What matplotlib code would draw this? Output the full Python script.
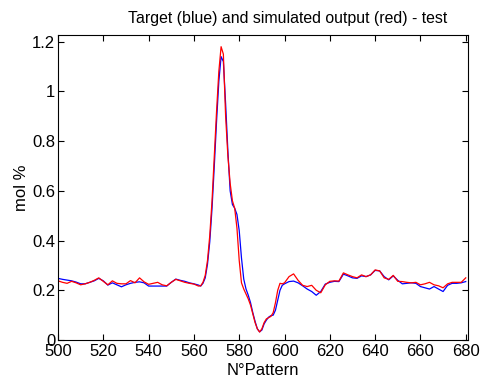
import numpy as np
import matplotlib
matplotlib.use('Agg')
import matplotlib.pyplot as plt

plt.rcParams['font.family'] = ['Liberation Sans', 'DejaVu Sans']

# pattern numbers (x) shared by both series
pattern = ([500, 502, 504, 506, 508, 510, 512, 514, 516, 518, 520, 522, 524, 526, 528,
            530, 532, 534, 536, 538, 540, 542, 544, 546, 548, 550, 552, 554, 556, 558,
            560, 562]
           + list(range(563, 601))
           + list(range(602, 681, 2)))

# target (blue)
target = [0.248, 0.244, 0.241, 0.238, 0.233, 0.226, 0.226, 0.232, 0.238, 0.248,
          0.238, 0.221, 0.230, 0.222, 0.214, 0.222, 0.228, 0.232, 0.234, 0.230,
          0.217, 0.217, 0.217, 0.217, 0.217, 0.232, 0.245, 0.240, 0.236, 0.230,
          0.226, 0.221,
          # 563..600
          0.217, 0.228, 0.250, 0.305, 0.395, 0.530, 0.700, 0.880, 1.040, 1.140,
          1.120, 0.950, 0.760, 0.600, 0.545, 0.530, 0.505, 0.440, 0.330, 0.245,
          0.205, 0.180, 0.150, 0.110, 0.075, 0.045, 0.033, 0.040, 0.065, 0.080,
          0.092, 0.098, 0.100, 0.120, 0.160, 0.200, 0.220, 0.226,
          # 602..680
          0.235, 0.237, 0.230, 0.218, 0.205, 0.195, 0.180, 0.195, 0.225, 0.232,
          0.236, 0.235, 0.265, 0.258, 0.250, 0.248, 0.258, 0.255, 0.262, 0.280,
          0.278, 0.255, 0.242, 0.258, 0.240, 0.226, 0.228, 0.230, 0.228, 0.215,
          0.210, 0.205, 0.215, 0.205, 0.195, 0.220, 0.228, 0.228, 0.230, 0.235]

# simulated output (red)
output = [0.238, 0.232, 0.228, 0.236, 0.230, 0.222, 0.226, 0.232, 0.240, 0.250,
          0.236, 0.222, 0.238, 0.228, 0.226, 0.226, 0.239, 0.230, 0.250, 0.234,
          0.224, 0.228, 0.232, 0.222, 0.218, 0.232, 0.244, 0.238, 0.232, 0.228,
          0.225, 0.217,
          # 563..600
          0.218, 0.232, 0.260, 0.320, 0.420, 0.560, 0.740, 0.920, 1.080, 1.180,
          1.150, 0.900, 0.740, 0.630, 0.560, 0.530, 0.450, 0.320, 0.230, 0.205,
          0.185, 0.165, 0.140, 0.105, 0.070, 0.045, 0.032, 0.045, 0.070, 0.085,
          0.090, 0.095, 0.110, 0.150, 0.200, 0.228, 0.226, 0.230,
          # 602..680
          0.255, 0.266, 0.240, 0.220, 0.215, 0.220, 0.200, 0.190, 0.222, 0.236,
          0.238, 0.237, 0.270, 0.262, 0.255, 0.250, 0.262, 0.255, 0.262, 0.282,
          0.278, 0.250, 0.244, 0.260, 0.236, 0.235, 0.232, 0.230, 0.232, 0.222,
          0.226, 0.232, 0.222, 0.218, 0.210, 0.226, 0.232, 0.232, 0.232, 0.250]

xticks = np.arange(500, 681, 20)
yticks = [0, 0.2, 0.4, 0.6, 0.8, 1, 1.2]

fig = plt.figure(figsize=(4.86, 3.83), dpi=100)
ax = fig.add_axes([58 / 486, 1 - 340 / 383, 410 / 486, 305 / 383])

ax.plot(pattern, target, color='blue', lw=0.9)
ax.plot(pattern, output, color='red', lw=0.9)

ax.set_xlim(500, 681)
ax.set_ylim(0, 1.227)
ax.set_xticks(xticks)
ax.set_yticks(yticks)
ax.set_yticklabels(['0', '0.2', '0.4', '0.6', '0.8', '1', '1.2'])
ax.tick_params(direction='in', top=True, right=True, labelsize=12, length=4)
ax.tick_params(axis='x', pad=3)
ax.tick_params(axis='y', pad=2)
for s in ax.spines.values():
    s.set_linewidth(0.8)

ax.set_xlabel('N°Pattern', fontsize=12, labelpad=3)
ax.set_ylabel('mol %', fontsize=12, labelpad=2)
fig.text(288 / 486, 1 - 18 / 383, 'Target (blue) and simulated output (red) - test',
         ha='center', va='center', fontsize=11.4)

plt.savefig('out.png', dpi=100)
